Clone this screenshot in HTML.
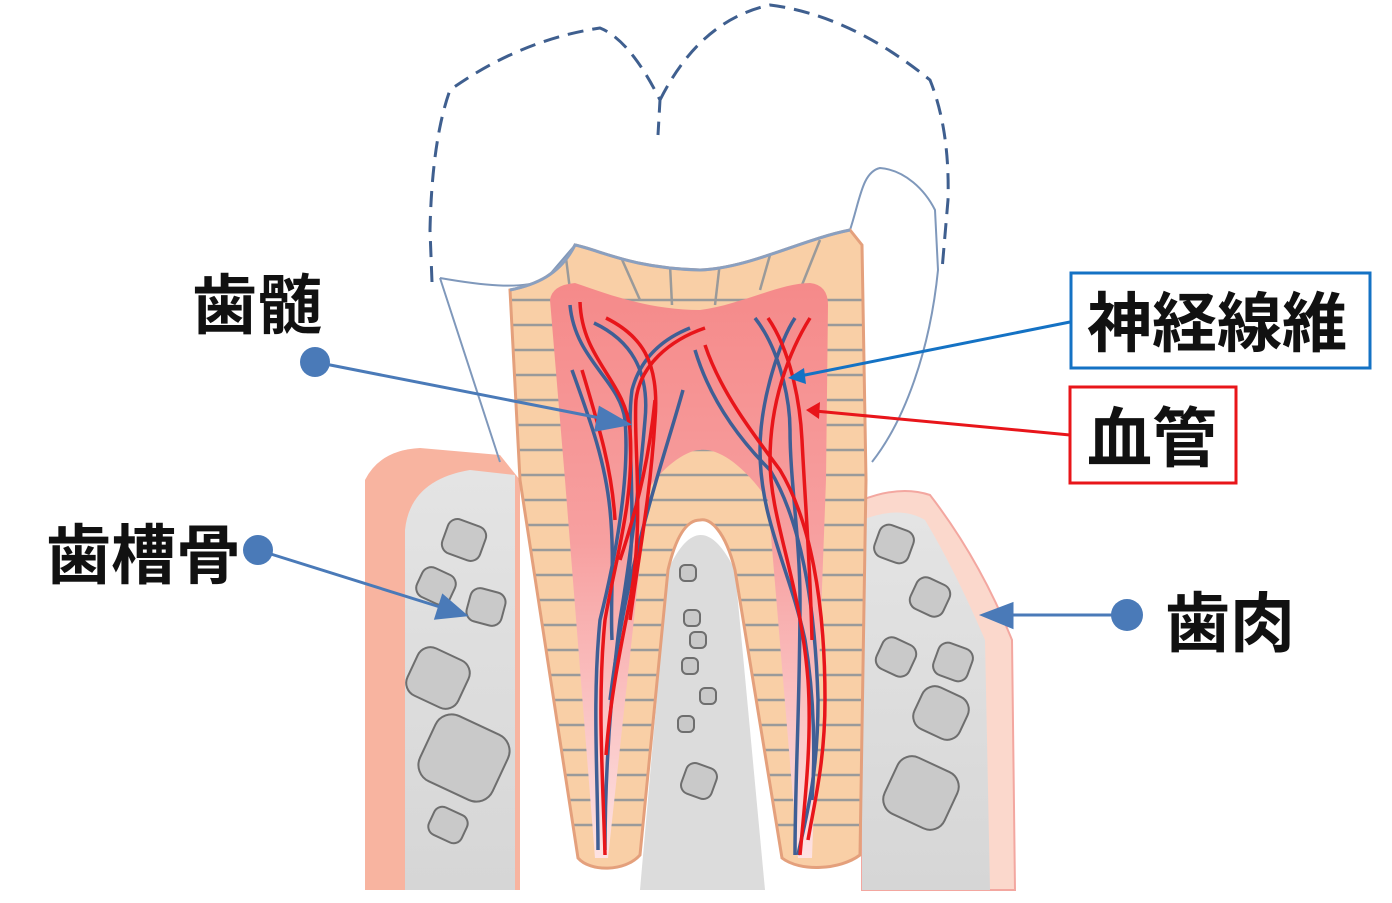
<!DOCTYPE html>
<html><head><meta charset="utf-8"><style>
body{margin:0;background:#fff;width:1392px;height:903px;overflow:hidden}
svg{display:block}
text{font-family:"Liberation Sans","Noto Sans CJK JP",sans-serif;fill:#111;font-weight:bold}
</style></head><body>
<svg width="1392" height="903" viewBox="0 0 1392 903">
<defs>
<linearGradient id="pg" x1="0" y1="0" x2="0" y2="1">
<stop offset="0" stop-color="#f58a8a"/><stop offset="0.45" stop-color="#f7a0a0"/><stop offset="1" stop-color="#fde2e2"/></linearGradient>
<linearGradient id="bg" x1="0" y1="0" x2="0" y2="1">
<stop offset="0" stop-color="#e4e4e4"/><stop offset="1" stop-color="#d6d6d6"/></linearGradient>
<clipPath id="dc"><path id="dp" d="M510,290 C535,285 560,275 575,245 C600,250 630,268 700,270 C750,268 800,240 850,230 L862,245 L866,480 L860,855 C840,870 800,872 782,858 L735,570 C725,530 710,518 700,520 C685,520 675,540 668,570 L640,855 C625,872 590,872 578,858 L520,480 Z"/></clipPath>
</defs>
<path d="M365,480 Q380,450 420,448 L500,455 L520,480 L520,890 L365,890 Z" fill="#f8b4a0"/>
<path d="M405,530 Q410,480 470,470 L515,475 L515,890 L405,890 Z" fill="url(#bg)"/>
<path d="M862,500 Q900,485 930,495 Q980,560 1012,640 L1015,890 L862,890 Z" fill="#fbd8cc" stroke="#f3a7a0" stroke-width="2"/>
<path d="M862,520 Q900,505 925,520 Q955,570 985,640 L990,890 L862,890 Z" fill="url(#bg)"/>
<path d="M640,890 L668,570 Q700,500 735,570 L765,890 Z" fill="#dcdcdc"/>
<path d="M440,278 L500,462" stroke="#7f98bb" stroke-width="2" fill="none"/>
<path d="M440,278 C480,285 520,290 545,280 L575,245" stroke="#7f98bb" stroke-width="2" fill="none"/>
<path d="M850,230 C860,200 862,172 880,168 C905,170 925,190 935,210 L938,270 C930,350 905,420 872,462" stroke="#7f98bb" stroke-width="2" fill="none"/>
<path d="M432,282 L430,230 Q432,140 450,90 Q520,40 600,28 Q630,40 660,100 L658,135 M660,100 Q700,20 770,5 Q850,15 930,80 Q950,130 948,200 L942,270" stroke="#3f5f8f" stroke-width="3" stroke-dasharray="16,9" fill="none"/>
<use href="#dp" fill="#f9cfa6"/>
<g clip-path="url(#dc)" stroke="#9a9a9a" stroke-width="2.5">
<line x1="500" y1="300" x2="870" y2="300"/><line x1="500" y1="325" x2="870" y2="325"/><line x1="500" y1="350" x2="870" y2="350"/><line x1="500" y1="375" x2="870" y2="375"/><line x1="500" y1="400" x2="870" y2="400"/><line x1="500" y1="425" x2="870" y2="425"/><line x1="500" y1="450" x2="870" y2="450"/><line x1="500" y1="475" x2="870" y2="475"/><line x1="500" y1="500" x2="870" y2="500"/><line x1="500" y1="525" x2="870" y2="525"/><line x1="500" y1="550" x2="870" y2="550"/><line x1="500" y1="575" x2="870" y2="575"/><line x1="500" y1="600" x2="870" y2="600"/><line x1="500" y1="625" x2="870" y2="625"/><line x1="500" y1="650" x2="870" y2="650"/><line x1="500" y1="675" x2="870" y2="675"/><line x1="500" y1="700" x2="870" y2="700"/><line x1="500" y1="725" x2="870" y2="725"/><line x1="500" y1="750" x2="870" y2="750"/><line x1="500" y1="775" x2="870" y2="775"/><line x1="500" y1="800" x2="870" y2="800"/><line x1="500" y1="825" x2="870" y2="825"/>
<line x1="565" y1="250" x2="570" y2="290"/><line x1="620" y1="255" x2="640" y2="300"/><line x1="670" y1="265" x2="672" y2="305"/><line x1="720" y1="262" x2="715" y2="305"/><line x1="770" y1="255" x2="760" y2="290"/><line x1="820" y1="240" x2="800" y2="290"/>
</g>
<use href="#dp" fill="none" stroke="#e4a07c" stroke-width="3"/>
<path d="M510,290 C535,285 560,275 575,245 C600,250 630,268 700,270 C750,268 800,240 850,230" stroke="#8aa0c0" stroke-width="3" fill="none"/>
<path d="M550,300 Q552,285 575,283 C610,295 650,310 700,310 C740,305 780,283 810,283 Q828,285 828,305 L826,480 L812,858 L798,858 L768,500 C740,460 715,448 700,450 C685,450 660,470 648,490 L608,858 L595,858 L565,480 Z" fill="url(#pg)"/>
<g stroke="#3f5f95" stroke-width="3.5" fill="none">
<path d="M570,305 C575,360 620,380 625,420 C630,480 615,560 600,620 C592,700 598,780 598,850"/>
<path d="M594,323 C630,340 650,370 645,420 C640,480 630,560 620,620 C610,700 605,780 605,850"/>
<path d="M572,370 C590,420 605,460 610,510 C615,560 610,600 612,640"/>
<path d="M690,328 C660,340 640,360 632,390 C625,440 640,520 625,600"/>
<path d="M683,390 C672,430 655,480 640,540 C630,580 620,620 610,700"/>
<path d="M695,350 C710,400 740,440 770,470 C800,520 815,600 818,700 C818,780 805,820 798,855"/>
<path d="M755,318 C780,350 790,400 790,430 C790,480 800,540 800,600 C800,700 795,780 795,855"/>
<path d="M795,318 C780,340 760,400 760,450 C760,520 790,570 805,640 C815,700 815,760 812,800"/>
</g>
<g stroke="#e8151a" stroke-width="3.5" fill="none">
<path d="M580,302 C582,360 625,380 630,430 C635,500 615,560 605,620 C597,700 603,780 605,855"/>
<path d="M606,318 C640,335 660,360 655,420 C650,500 638,560 630,620"/>
<path d="M705,328 C670,340 640,365 636,400 C633,440 645,520 630,600 C620,650 610,700 606,755"/>
<path d="M582,370 C600,430 612,470 615,520"/>
<path d="M655,400 C650,450 640,500 620,560"/>
<path d="M705,345 C720,390 750,430 780,470 C810,520 825,600 825,700 C825,760 815,800 808,840"/>
<path d="M768,318 C790,350 800,400 802,440 C805,500 810,560 812,640"/>
<path d="M810,318 C790,350 770,400 770,460 C770,520 800,580 808,680 C812,740 805,800 800,855"/>
</g>
<g fill="#c9c9c9" stroke="#6e6e6e" stroke-width="2">
<rect x="444" y="522" width="40" height="36" rx="10" transform="rotate(20 464 540)"/>
<rect x="418" y="570" width="36" height="32" rx="10" transform="rotate(25 436 586)"/>
<rect x="468" y="590" width="36" height="34" rx="10" transform="rotate(15 486 607)"/>
<rect x="410" y="652" width="56" height="52" rx="14" transform="rotate(25 438 678)"/>
<rect x="424" y="722" width="80" height="72" rx="18" transform="rotate(25 464 758)"/>
<rect x="430" y="810" width="36" height="30" rx="9" transform="rotate(25 448 825)"/>
<rect x="876" y="527" width="36" height="34" rx="10" transform="rotate(20 894 544)"/>
<rect x="912" y="580" width="36" height="34" rx="10" transform="rotate(25 930 597)"/>
<rect x="878" y="640" width="36" height="34" rx="10" transform="rotate(25 896 657)"/>
<rect x="935" y="645" width="36" height="34" rx="10" transform="rotate(20 953 662)"/>
<rect x="916" y="690" width="50" height="46" rx="14" transform="rotate(25 941 713)"/>
<rect x="888" y="762" width="66" height="62" rx="16" transform="rotate(25 921 793)"/>
<rect x="680" y="565" width="16" height="16" rx="5"/><rect x="684" y="610" width="16" height="16" rx="5"/><rect x="690" y="632" width="16" height="16" rx="5"/><rect x="682" y="658" width="16" height="16" rx="5"/><rect x="700" y="688" width="16" height="16" rx="5"/><rect x="678" y="716" width="16" height="16" rx="5"/><rect x="683" y="765" width="32" height="32" rx="9" transform="rotate(20 699 781)"/>
</g>
<g stroke="#4a7ab8" stroke-width="3" fill="#4a7ab8">
<line x1="315" y1="362" x2="600" y2="418"/><polygon points="628,424 596,430 600,408"/><circle cx="315" cy="362" r="15" stroke="none"/>
<line x1="258" y1="550" x2="440" y2="607"/><polygon points="465,615 436,618 443,596"/><circle cx="258" cy="550" r="15" stroke="none"/>
<line x1="1127" y1="615" x2="1010" y2="615"/><polygon points="983,615 1012,604 1012,627"/><circle cx="1127" cy="615" r="16" stroke="none"/>
</g>
<line x1="1070" y1="322" x2="800" y2="376" stroke="#1472c4" stroke-width="3"/><polygon points="788,378 804,368 806,384" fill="#1472c4"/>
<line x1="1070" y1="435" x2="815" y2="411" stroke="#e8151a" stroke-width="3"/><polygon points="806,410 820,402 819,419" fill="#e8151a"/>
<rect x="1071" y="273" width="299" height="95" fill="#fff" stroke="#1472c4" stroke-width="3"/>
<rect x="1070" y="387" width="166" height="96" fill="#fff" stroke="#e8151a" stroke-width="3"/>
<text x="1087" y="346" font-size="65">神経線維</text>
<text x="1087" y="461" font-size="65">血管</text>
<text x="192" y="328" font-size="65">歯髄</text>
<text x="46" y="578" font-size="65">歯槽骨</text>
<text x="1165" y="646" font-size="65">歯肉</text>
</svg>
</body></html>
